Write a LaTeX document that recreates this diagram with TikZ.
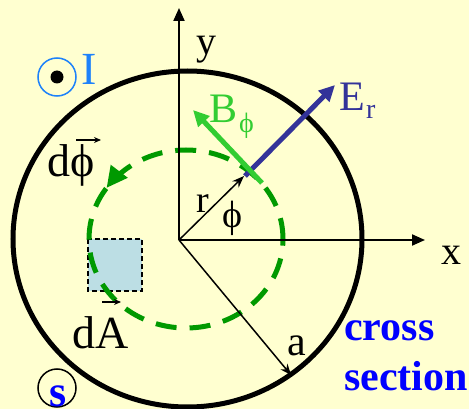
\documentclass[tikz,border=0pt]{standalone}
\usepackage{fontspec}
\setmainfont{Liberation Serif}
\usetikzlibrary{arrows.meta}
\definecolor{bgcol}{RGB}{255,255,208}
\definecolor{iblue}{RGB}{30,130,250}
\definecolor{tblue}{RGB}{0,0,255}
\definecolor{lgreen}{RGB}{50,205,50}
\definecolor{dgreen}{RGB}{0,153,0}
\definecolor{eblue}{RGB}{51,51,153}
\definecolor{sqblue}{RGB}{188,222,228}
\begin{document}
\begin{tikzpicture}[x=1pt,y=1pt,
  lbl/.style={inner sep=0pt, anchor=base west, font=\fontsize{40}{44}\selectfont},
  sublbl/.style={inner sep=0pt, anchor=base west, font=\fontsize{28}{30}\selectfont},
  axisline/.style={line width=2pt, -{Triangle[length=13pt,width=11pt]}},
  thinarrow/.style={line width=1.5pt, -{Stealth[length=12pt,width=9pt]}},
  vecarrow/.style={line width=1.3pt, -{Stealth[length=7pt,width=6pt]}},
  fieldarrow/.style={line width=5pt, -{Triangle[length=16pt,width=15pt]}}]
\fill[bgcol] (0,0) rectangle (469,-409);
\useasboundingbox (0,0) rectangle (469,-409);

% big conductor cross section
\draw[line width=5pt] (187.5,-239) ellipse [x radius=174.5, y radius=168];

% surface element
\draw[fill=sqblue, line width=1.5pt, dash pattern=on 5pt off 3pt] (88,-239) rectangle (142,-291);

% dashed amperian loop
\draw[dgreen, line width=5pt, dash pattern=on 21pt off 13pt] (186,-239) ellipse [x radius=97, y radius=89];
\draw[dgreen, line width=5pt, -{Triangle[length=21pt,width=20pt]}]
  (186,-239) ++(132:97 and 89) arc [start angle=132, end angle=145, x radius=97, y radius=89];

% axes and radii
\coordinate (O) at (179,-240);
\coordinate (X) at (425,-240);
\coordinate (Y) at (179,-8);
\coordinate (R) at (244,-176);
\coordinate (Aend) at (291,-375);
\coordinate (E0) at (245,-176);
\coordinate (E1) at (335,-85);
\coordinate (B0) at (262,-183);
\coordinate (B1) at (193,-110);
\draw[axisline] (O) -- (X);
\draw[axisline] (O) -- (Y);
\draw[thinarrow] (O) -- (R);
\draw[line width=1.5pt, -{Stealth[length=11pt,width=9pt]}] (O) -- (Aend);

% fields
\draw[fieldarrow, eblue] (E0) -- (E1);
\draw[fieldarrow, lgreen] (B0) -- (B1);

% labels
\node[lbl] (ylab) at (196,-55) {y};
\node[lbl] (xlab) at (441,-265) {x};
\node[lbl, font=\fontsize{42}{44}\selectfont] (alab) at (287,-355) {a};
\node[lbl, font=\fontsize{38}{40}\selectfont] (rlab) at (196,-213) {r};
\node[lbl, font=\fontsize{38}{40}\selectfont] (philab) at (222,-228) {ϕ};
\node[lbl, eblue, font=\fontsize{42}{44}\selectfont] (Elab) at (339,-111) {E};
\node[sublbl, eblue] (Esub) at (366,-119) {r};
\node[lbl, lgreen, font=\fontsize{42}{44}\selectfont] (Blab) at (209,-123) {B};
\node[sublbl, lgreen] (Bsub) at (239,-133) {ϕ};
\node[lbl, font=\fontsize{46}{48}\selectfont] (dphi) at (47,-177) {dϕ};
\node[lbl, font=\fontsize{46}{48}\selectfont] (dA) at (72,-348) {dA};
\coordinate (vp0) at (76,-140);
\coordinate (vp1) at (101,-140);
\coordinate (va0) at (102,-302);
\coordinate (va1) at (121,-302);
\draw[vecarrow] (vp0) -- (vp1);
\draw[vecarrow] (va0) -- (va1);
\node[lbl, iblue, font=\fontsize{46}{48}\selectfont] (Ilab) at (81,-85) {I};
\node[lbl, tblue, font=\fontsize{42}{44}\selectfont\bfseries] (cross) at (344,-340) {cross};
\node[lbl, tblue, font=\fontsize{42}{44}\selectfont\bfseries] (section) at (344,-390) {section};

% current symbols
\node[draw=iblue, line width=1.5pt, circle, minimum size=38pt, inner sep=0pt] (Iout) at (57,-77) {};
\fill (Iout.center) circle [radius=6.5];
\node[draw, line width=1.5pt, circle, minimum size=38pt, inner sep=0pt] (Sring) at (57,-388) {};
\node[inner sep=0pt, anchor=base, tblue, font=\fontsize{44}{46}\selectfont\bfseries] (slab) at (58,-406) {s};
\end{tikzpicture}
\end{document}
